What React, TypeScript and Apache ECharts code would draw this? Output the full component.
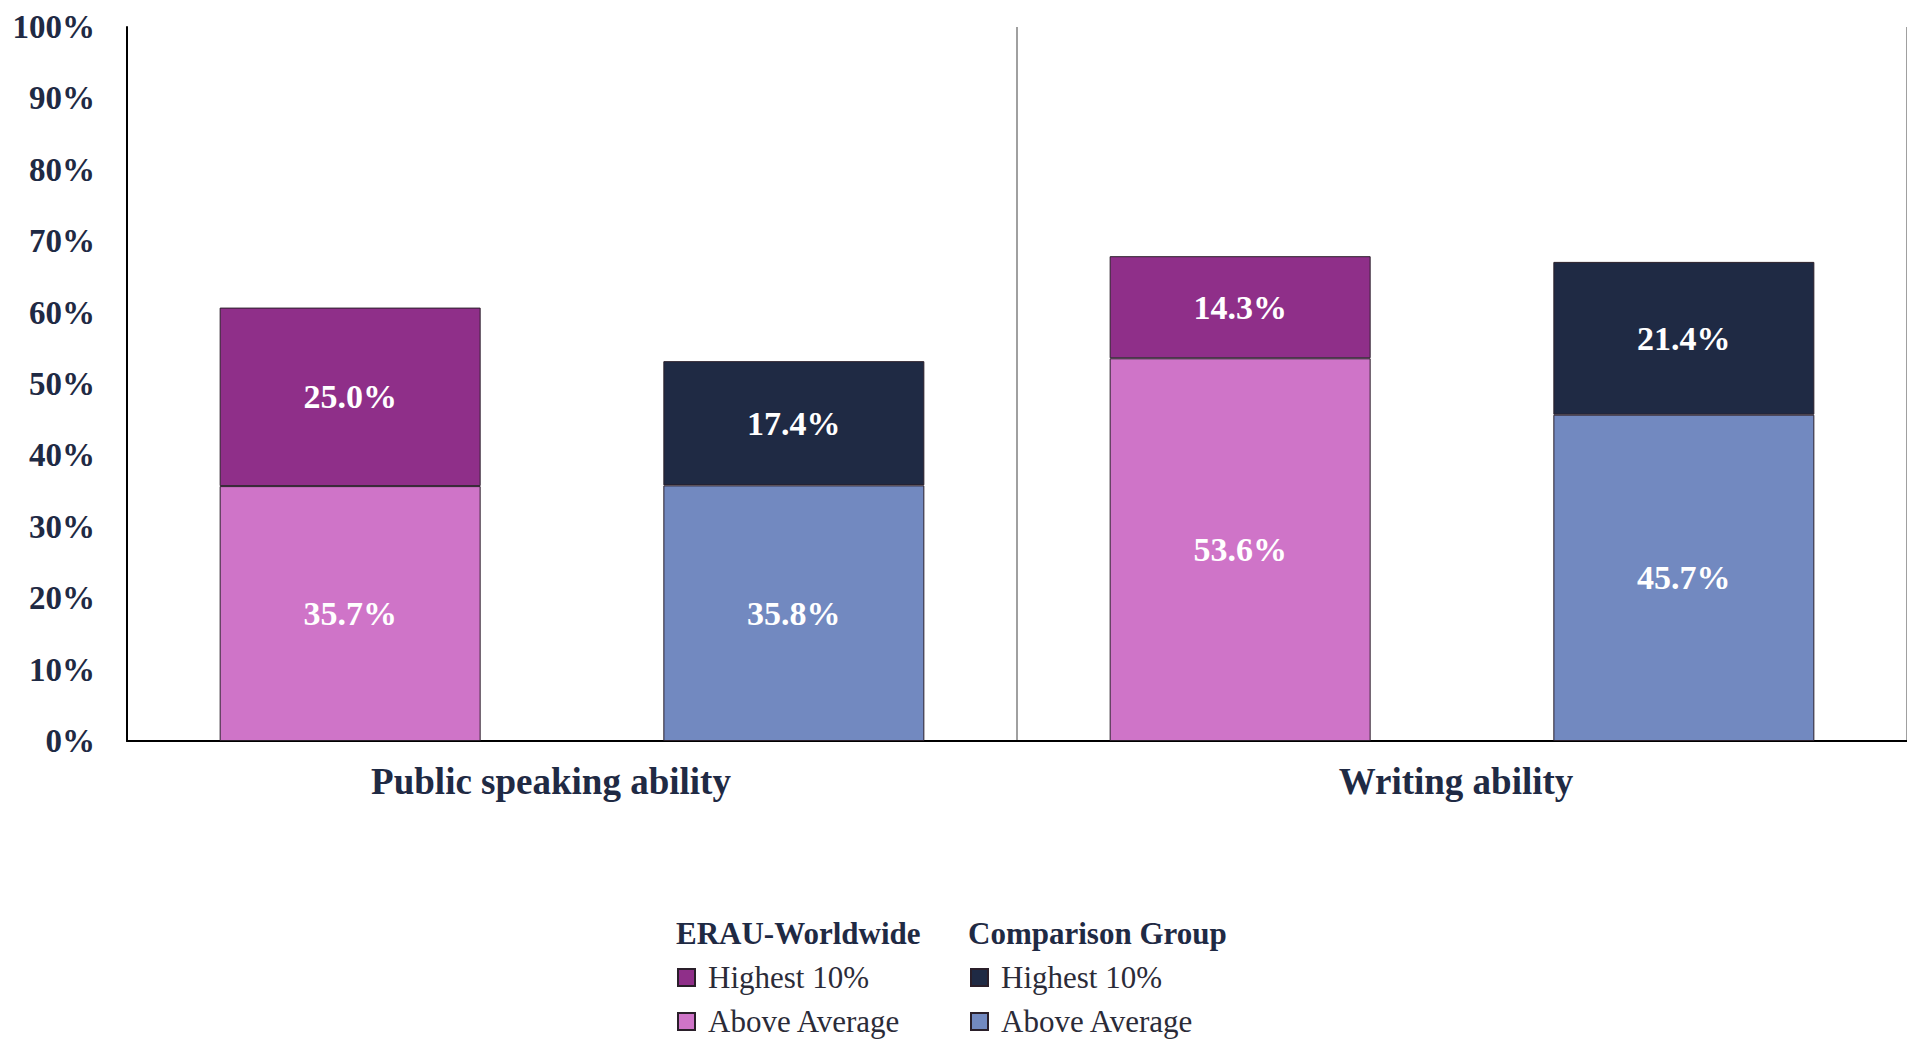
import React, { useEffect, useRef } from "react";
import * as echarts from "echarts";

const categories = ["Public speaking ability", "Writing ability"];
const erauAbove = [35.7, 53.6];
const erauHighest = [25.0, 14.3];
const compAbove = [35.8, 45.7];
const compHighest = [17.4, 21.4];
const yTicks = { min: 0, max: 100, interval: 10 };

const FONT = "'Liberation Serif', 'Times New Roman', serif";
const NAVY = "#1F2A44";

export default function App() {
  const ref = useRef<HTMLDivElement>(null);
  useEffect(() => {
    if (!ref.current) return;
    const chart = echarts.init(ref.current, undefined, { renderer: "svg" });
    const label = {
      show: true,
      position: "inside",
      color: "#fff",
      fontFamily: FONT,
      fontSize: 34,
      fontWeight: "bold",
      formatter: (p: any) => Number(p.value).toFixed(1) + "%",
    };
    const item = (c: string) => ({ color: c, borderColor: "#2a1f2a", borderWidth: 1 });
    const leg = (name: string, left: number, top: number) => ({
      orient: "vertical",
      left,
      top,
      itemWidth: 17,
      itemHeight: 17,
      icon: "rect",
      data: [name],
      formatter: (n: string) => n.split("|")[1],
      textStyle: {
        fontFamily: FONT,
        fontSize: 31,
        color: "#2b2b38",
        lineHeight: 31,
        padding: [0, 0, 0, 8],
      },
      selectedMode: false,
    });
    const catText = {
      fontFamily: FONT,
      fontSize: 37,
      fontWeight: "bold",
      color: NAVY,
    };
    chart.setOption({
      animation: false,
      backgroundColor: "#fff",
      grid: { left: 127, right: 0, top: 27, bottom: 298, containLabel: false },
      xAxis: {
        type: "category",
        data: categories,
        axisLine: { show: true, lineStyle: { color: "#000", width: 2 } },
        axisTick: { show: false },
        splitLine: { show: true, lineStyle: { color: "#a0a0a0", width: 2 } },
        axisLabel: {
          margin: 22,
          ...catText,
          formatter: (v: string, i: number) => (i === 0 ? `{a|${v}}` : `{b|${v}}`),
          rich: {
            a: { ...catText, padding: [0, 42, 0, 0] },
            b: { ...catText, padding: [0, 12, 0, 0] },
          },
        },
      },
      yAxis: {
        type: "value",
        min: yTicks.min,
        max: yTicks.max,
        interval: yTicks.interval,
        axisLine: { show: true, lineStyle: { color: "#000", width: 2 } },
        axisTick: { show: false },
        splitLine: { show: false },
        axisLabel: {
          margin: 32,
          formatter: "{value}%",
          fontFamily: FONT,
          fontSize: 33,
          fontWeight: "bold",
          color: NAVY,
        },
      },
      legend: [
        leg("ERAU|Highest 10%", 672, 957),
        leg("ERAU|Above Average", 672, 1001),
        leg("Comp|Highest 10%", 965, 957),
        leg("Comp|Above Average", 965, 1001),
      ],
      graphic: [
        {
          type: "text",
          left: 676,
          top: 918,
          style: { text: "ERAU-Worldwide", fontFamily: FONT, fontSize: 31, fontWeight: "bold", fill: NAVY },
        },
        {
          type: "text",
          left: 968,
          top: 918,
          style: { text: "Comparison Group", fontFamily: FONT, fontSize: 31, fontWeight: "bold", fill: NAVY },
        },
      ],
      series: [
        {
          name: "ERAU|Above Average",
          type: "bar",
          stack: "erau",
          data: erauAbove,
          barWidth: 261,
          barGap: "70%",
          itemStyle: item("#CF74C8"),
          label,
        },
        {
          name: "ERAU|Highest 10%",
          type: "bar",
          stack: "erau",
          data: erauHighest,
          barWidth: 261,
          barGap: "70%",
          itemStyle: item("#8F2F89"),
          label,
        },
        {
          name: "Comp|Above Average",
          type: "bar",
          stack: "comp",
          data: compAbove,
          barWidth: 261,
          barGap: "70%",
          itemStyle: item("#7289C0"),
          label,
        },
        {
          name: "Comp|Highest 10%",
          type: "bar",
          stack: "comp",
          data: compHighest,
          barWidth: 261,
          barGap: "70%",
          itemStyle: item("#1F2A44"),
          label,
        },
      ],
    });
    return () => chart.dispose();
  }, []);
  return (
    <div
      ref={ref}
      style={{ position: "fixed", left: 0, top: 0, width: 1907, height: 1039 }}
    />
  );
}
